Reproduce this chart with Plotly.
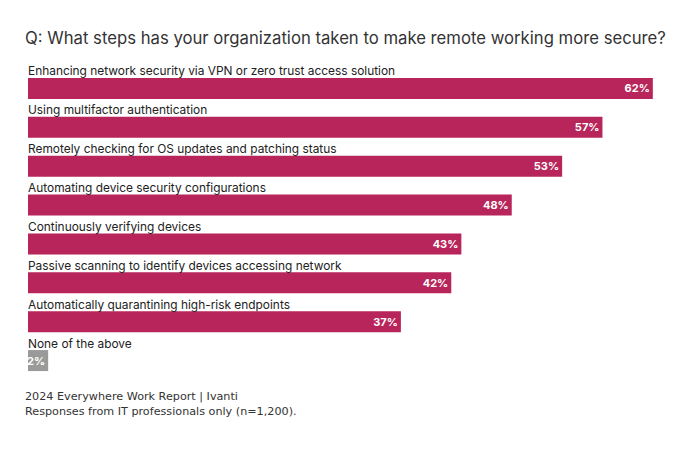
import plotly.graph_objects as go

steps = [
    "Enhancing network security via VPN or zero trust access solution",
    "Using multifactor authentication",
    "Remotely checking for OS updates and patching status",
    "Automating device security configurations",
    "Continuously verifying devices",
    "Passive scanning to identify devices accessing network",
    "Automatically quarantining high-risk endpoints",
    "None of the above",
]
shares = [62, 57, 53, 48, 43, 42, 37, 2]

crimson = "#B8255A"
grey = "#9A9A9A"
colors = [grey if s == "None of the above" else crimson for s in steps]

fig = go.Figure(go.Bar(
    x=shares,
    y=steps,
    orientation="h",
    marker=dict(color=colors, line=dict(width=0)),
    text=[f"{v}%" for v in shares],
    textposition="inside",
    insidetextanchor="end",
    textangle=0,
    constraintext="none",
    textfont=dict(family="Inter", size=11, color="white", weight="bold"),
    hoverinfo="skip",
))

# category labels sit above each bar
for s in steps:
    fig.add_annotation(
        x=0, y=s, xref="x", yref="y",
        text=s, showarrow=False,
        xanchor="left", yanchor="middle", yshift=17.5, xshift=-2,
        font=dict(family="Inter", size=11.9, color="#222222"),
    )

fig.add_annotation(
    x=-5 / 645, y=-0.078, xref="paper", yref="paper",
    text="2024 Everywhere Work Report | Ivanti<br>Responses from IT professionals only (n=1,200).",
    showarrow=False, xanchor="left", yanchor="middle", align="left",
    font=dict(family="DejaVu Sans", size=11.2, color="#333333"),
)

fig.update_layout(
    width=679, height=451,
    margin=dict(l=20, r=14, t=61, b=79),
    paper_bgcolor="white", plot_bgcolor="white",
    bargap=0.46,
    showlegend=False,
    title=dict(
        text="Q: What steps has your organization taken to make remote working more secure?",
        x=17 / 679, xref="container", xanchor="left",
        y=1 - 30 / 451, yref="container", yanchor="middle",
        font=dict(family="Inter", size=16.7, color="#333333"),
    ),
    xaxis=dict(range=[0, 64], visible=False, fixedrange=True),
    yaxis=dict(range=[7.5, -0.5], visible=False, fixedrange=True),
)

fig.write_html("out.html")
